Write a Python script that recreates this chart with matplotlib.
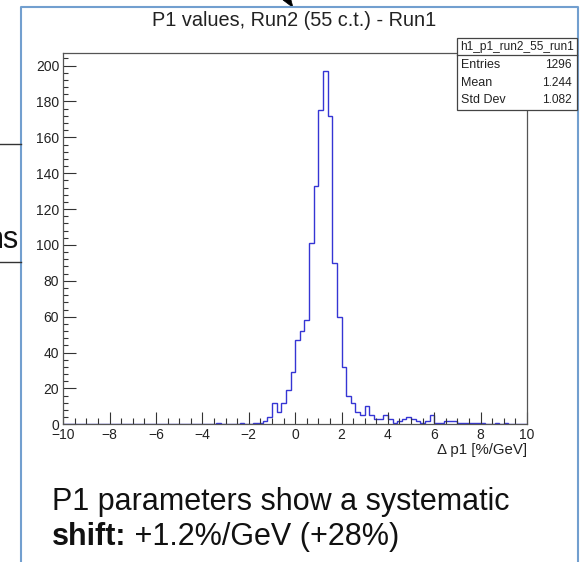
import numpy as np
import matplotlib
matplotlib.use("Agg")
import matplotlib.pyplot as plt
from matplotlib.patches import Rectangle, Polygon
from matplotlib.lines import Line2D

plt.rcParams['font.family'] = ['Liberation Sans', 'DejaVu Sans']

# ---- histogram data: 100 bins of 0.2 from -10 to 10 ----
x_min, x_max, n_bins = -10.0, 10.0, 100
counts = [0] * 100
bin_counts = {
    -3.4: 1, -2.4: 1, -1.8: 1, -1.6: 1, -1.4: 2, -1.2: 4,
    -1.0: 12, -0.8: 7, -0.6: 12, -0.4: 19, -0.2: 29,
    0.0: 47, 0.2: 52, 0.4: 58, 0.6: 101, 0.8: 133,
    1.0: 175, 1.2: 197, 1.4: 172, 1.6: 90, 1.8: 60,
    2.0: 32, 2.2: 16, 2.4: 12, 2.6: 7, 2.8: 5,
    3.0: 10, 3.2: 5, 3.4: 3, 3.6: 3, 3.8: 5,
    4.0: 3, 4.2: 1, 4.4: 2, 4.6: 3, 4.8: 4,
    5.0: 3, 5.2: 2, 5.4: 1, 5.6: 2, 5.8: 5,
    6.0: 1, 6.2: 1, 6.4: 2, 6.6: 2, 6.8: 2,
    7.0: 1, 7.2: 1, 7.4: 1, 7.6: 1, 7.8: 1,
    8.0: 1, 8.6: 1, 9.0: 1,
}
for lo, c in bin_counts.items():
    counts[int(round((lo - x_min) / 0.2))] = c

hist_name = "h1_p1_run2_55_run1"
stat_labels = ["Entries", "Mean", "Std Dev"]
stat_values = ["1296", "1.244", "1.082"]
title = "P1 values, Run2 (55 c.t.) - Run1"
x_title = "\u0394 p1 [%/GeV]"

W, H = 583, 562
fig = plt.figure(figsize=(W / 100, H / 100), dpi=100)


def fx(px):
    return px / W


def fy(py):
    return 1 - py / H


# ---- main frame ----
left, right, top, bottom = 63.3, 527.0, 53.3, 424.3
ax = fig.add_axes([fx(left), fy(bottom), fx(right - left), (bottom - top) / H])
edges = np.linspace(x_min, x_max, n_bins + 1)
ax.stairs(counts, edges, color='#3535d4', lw=1.0, baseline=0)
ax.set_xlim(x_min, x_max)
ax.set_ylim(0, 1.05 * max(counts))

for s in ax.spines.values():
    s.set_color('#555555')
    s.set_linewidth(0.9)

ax.set_xticks(np.arange(-10, 10.1, 2))
ax.set_xticks(np.arange(-10, 10.1, 0.5), minor=True)
ax.set_yticks(np.arange(0, 201, 20))
ax.set_yticks(np.arange(0, 207, 4), minor=True)
ax.tick_params(axis='both', which='both', direction='in', color='#333333',
               top=False, right=False, labelsize=10, labelcolor='#222222')
ax.tick_params(axis='x', which='major', length=8.6, width=0.8, pad=2.5)
ax.tick_params(axis='x', which='minor', length=4.3, width=0.8)
ax.tick_params(axis='y', which='major', length=9.4, width=0.8, pad=3)
ax.tick_params(axis='y', which='minor', length=3.6, width=0.8)

fig.text(fx(right), fy(454), x_title, ha='right', va='baseline',
         fontsize=10.8, color='#222222')
fig.text(fx(294.5), fy(26), title, ha='center', va='baseline',
         fontsize=14.3, color='#222222')

# ---- statistics box ----
bx0, bx1, by0, by1 = 456.7, 576.7, 38.0, 110.0
fig.add_artist(Rectangle((fx(bx0), fy(by1)), fx(bx1 - bx0), (by1 - by0) / H,
                         transform=fig.transFigure, facecolor='white',
                         edgecolor='#444444', lw=0.9, zorder=5))
fig.add_artist(Line2D([fx(bx0), fx(bx1)], [fy(55), fy(55)],
                      transform=fig.transFigure, color='#444444', lw=0.9,
                      zorder=6))
fig.text(fx((bx0 + bx1) / 2), fy(47), hist_name, ha='center', va='center',
         fontsize=8.6, color='#222222', zorder=7)
for lab, val, yy in zip(stat_labels, stat_values, [65, 82.5, 100]):
    fig.text(fx(461), fy(yy), lab, ha='left', va='center', fontsize=9.0,
             color='#222222', zorder=7)
    fig.text(fx(572), fy(yy), val, ha='right', va='center', fontsize=8.6,
             color='#222222', zorder=7)

# ---- surrounding slide elements ----
border = '#729fcf'
fig.add_artist(Line2D([fx(20.7), fx(20.7), fx(577.7), fx(577.7)],
                      [fy(H), fy(6.7), fy(6.7), fy(H)],
                      transform=fig.transFigure, color=border, lw=1.5))
fig.add_artist(Polygon([(fx(283), fy(0)), (fx(291), fy(0)), (fx(293), fy(7.5))],
                       closed=True, transform=fig.transFigure,
                       facecolor='black', edgecolor='black', lw=0.5))
for yy in (144.3, 262.3):
    fig.add_artist(Line2D([fx(0), fx(20.7)], [fy(yy), fy(yy)],
                          transform=fig.transFigure, color='#333333', lw=1.0))
fig.text(fx(19), fy(248), "ns", ha='right', va='baseline', fontsize=22,
         color='#111111')

fig.text(fx(52), fy(510), "P1 parameters show a systematic", ha='left',
         va='baseline', fontsize=22, color='#111111')
bold = fig.text(fx(52), fy(545), "shift:", ha='left', va='baseline',
                fontsize=22, fontweight='bold', color='#111111')
renderer = fig.canvas.get_renderer()
bb = bold.get_window_extent(renderer)
fig.text(bb.x1 / W, fy(545), " +1.2%/GeV (+28%)", ha='left', va='baseline',
         fontsize=22, color='#111111')

fig.savefig("out.png", dpi=100)
